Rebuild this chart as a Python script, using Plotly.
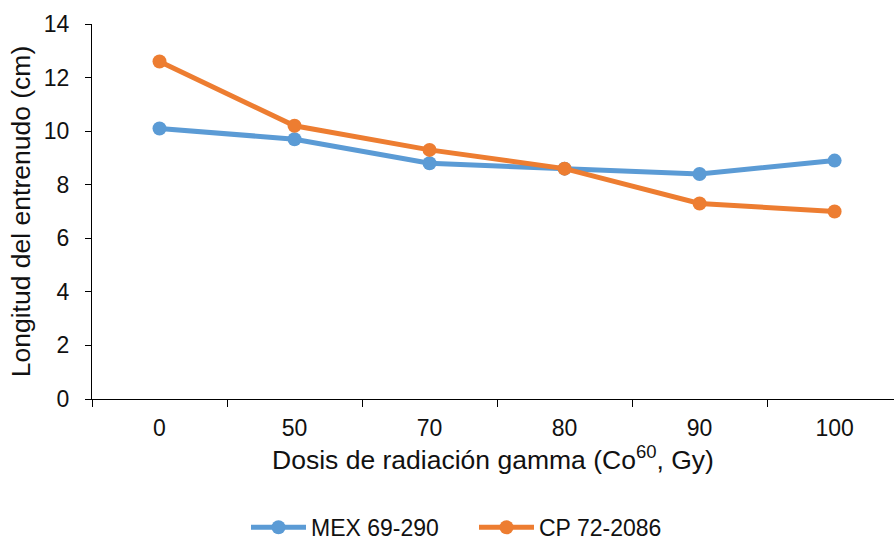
import plotly.graph_objects as go

# Dose levels (Co60, Gy) and internode length (cm) per variety
doses = ["0", "50", "70", "80", "90", "100"]
mex_69_290 = [10.1, 9.7, 8.8, 8.6, 8.4, 8.9]
cp_72_2086 = [12.6, 10.2, 9.3, 8.6, 7.3, 7.0]
y_ticks = [0, 2, 4, 6, 8, 10, 12, 14]

BLUE = "#5B9BD5"
ORANGE = "#ED7D31"
FONT = "Liberation Sans, Arial, sans-serif"
TXT = "#111111"

fig = go.Figure()
fig.add_trace(go.Scatter(
    x=doses, y=mex_69_290, name="MEX 69-290", mode="lines+markers",
    line=dict(color=BLUE, width=5), marker=dict(color=BLUE, size=14),
))
fig.add_trace(go.Scatter(
    x=doses, y=cp_72_2086, name="CP 72-2086", mode="lines+markers",
    line=dict(color=ORANGE, width=5), marker=dict(color=ORANGE, size=14),
))

fig.update_layout(
    width=894, height=542,
    margin=dict(l=92, r=0, t=24, b=143),
    paper_bgcolor="white", plot_bgcolor="white",
    font=dict(family=FONT, size=23, color=TXT),
    legend=dict(
        orientation="h", xref="container", yref="container",
        x=246 / 894, y=0.027, xanchor="left", yanchor="middle",
        font=dict(size=23, color=TXT), tracegroupgap=0,
        itemwidth=55, entrywidth=158,
    ),
    xaxis=dict(
        type="category", range=[-0.5, 5.44], tickson="boundaries",
        showline=True, linecolor="black", linewidth=1.3,
        ticks="outside", ticklen=7, tickcolor="black",
        showgrid=False, zeroline=False, automargin=False,
        tickfont=dict(size=23, color=TXT), ticklabelstandoff=8,
        title=dict(text="Dosis de radiación gamma (Co<sup>60</sup>, Gy)",
                   font=dict(size=26.5, color=TXT), standoff=9),
    ),
    yaxis=dict(
        range=[0, 14], tickvals=y_ticks,
        showline=True, linecolor="black", linewidth=1.3,
        ticks="outside", ticklen=6, tickcolor="black",
        showgrid=False, zeroline=False, automargin=False,
        tickfont=dict(size=23, color=TXT), ticklabelstandoff=11,
        title=dict(text="Longitud del entrenudo (cm)",
                   font=dict(size=26.5, color=TXT), standoff=5),
    ),
)

fig.write_html("out.html")
